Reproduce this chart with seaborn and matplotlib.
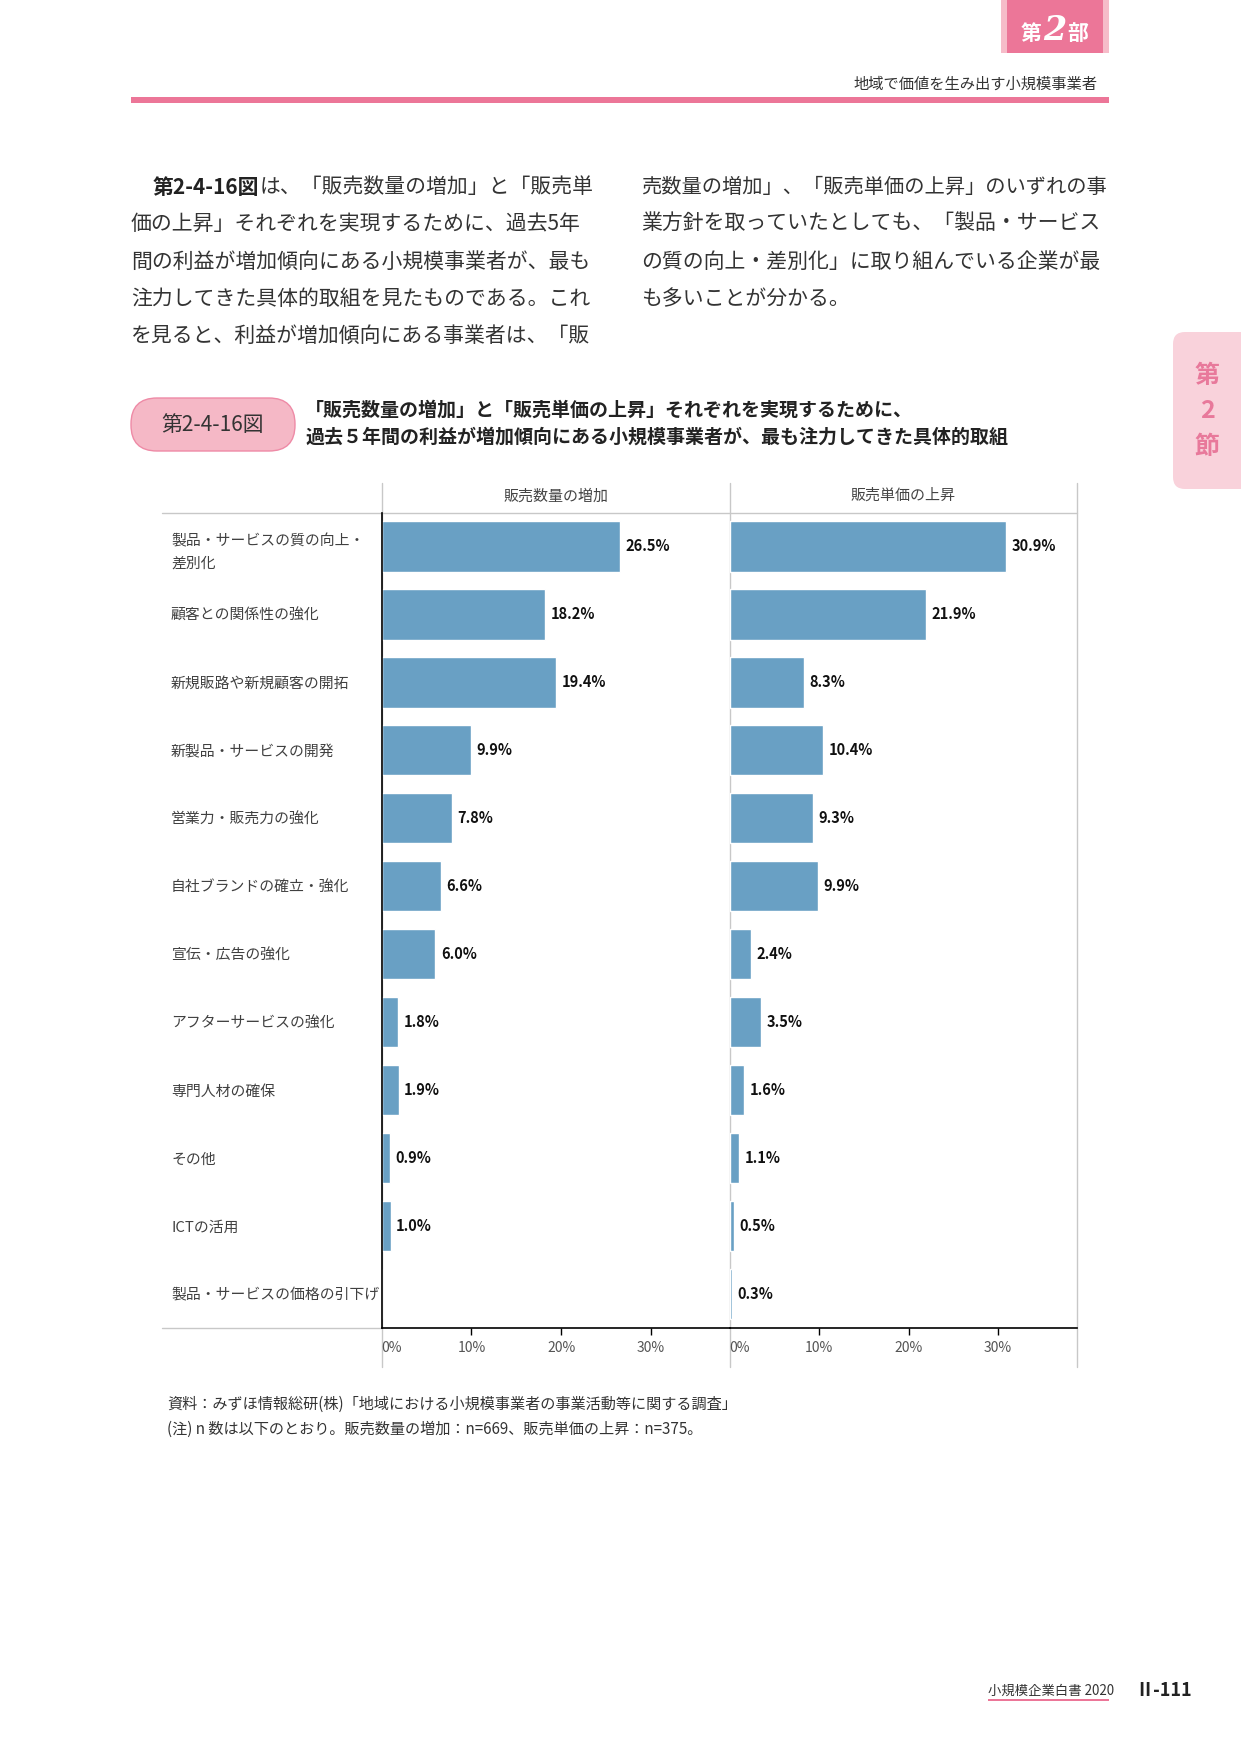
import matplotlib
matplotlib.use("Agg")
import matplotlib.pyplot as plt
import seaborn as sns
import pandas as pd
from matplotlib.patches import Rectangle, FancyBboxPatch
from matplotlib.lines import Line2D
from matplotlib.ticker import FuncFormatter

sns.set_style("white")
plt.rcParams['font.family'] = ['Noto Sans CJK JP', 'DejaVu Sans']

# ---------------- data ----------------
categories = [
    "製品・サービスの質の向上・\n差別化",
    "顧客との関係性の強化",
    "新規販路や新規顧客の開拓",
    "新製品・サービスの開発",
    "営業力・販売力の強化",
    "自社ブランドの確立・強化",
    "宣伝・広告の強化",
    "アフターサービスの強化",
    "専門人材の確保",
    "その他",
    "ICTの活用",
    "製品・サービスの価格の引下げ",
]
volume_increase = [26.5, 18.2, 19.4, 9.9, 7.8, 6.6, 6.0, 1.8, 1.9, 0.9, 1.0, 0.0]
price_increase = [30.9, 21.9, 8.3, 10.4, 9.3, 9.9, 2.4, 3.5, 1.6, 1.1, 0.5, 0.3]
panel_titles = ["販売数量の増加", "販売単価の上昇"]
x_ticks = [0, 10, 20, 30]

body_left = [
    "は、「販売数量の増加」と「販売単",
    "価の上昇」それぞれを実現するために、過去5年",
    "間の利益が増加傾向にある小規模事業者が、最も",
    "注力してきた具体的取組を見たものである。これ",
    "を見ると、利益が増加傾向にある事業者は、「販",
]
body_right = [
    "売数量の増加」、「販売単価の上昇」のいずれの事",
    "業方針を取っていたとしても、「製品・サービス",
    "の質の向上・差別化」に取り組んでいる企業が最",
    "も多いことが分かる。",
]
fig_no = "第2-4-16図"
title_lines = [
    "「販売数量の増加」と「販売単価の上昇」それぞれを実現するために、",
    "過去５年間の利益が増加傾向にある小規模事業者が、最も注力してきた具体的取組",
]
notes = [
    "資料：みずほ情報総研(株)「地域における小規模事業者の事業活動等に関する調査」",
    "(注) n 数は以下のとおり。販売数量の増加：n=669、販売単価の上昇：n=375。",
]

PINK = "#ec7698"
BAR = "#69a0c4"
GRAY = "#c8c8c8"

W, H = 1241, 1754
fig = plt.figure(figsize=(W / 100, H / 100), dpi=100)
bg = fig.add_axes([0, 0, 1, 1])
bg.set_xlim(0, W)
bg.set_ylim(H, 0)
bg.axis("off")
bg.set_zorder(0)

# ---- page header ----
bg.add_patch(Rectangle((1001, 0), 108, 53, fc="#f6bcc9", ec="none"))
bg.add_patch(Rectangle((1007, 0), 96, 53, fc=PINK, ec="none"))
bg.text(1031, 34, "第", color="white", fontsize=15, fontweight="bold", ha="center", va="center")
bg.text(1055, 30, "2", color="white", fontsize=24, fontstyle="italic", family="DejaVu Serif",
        fontweight="bold", ha="center", va="center")
bg.text(1078, 34, "部", color="white", fontsize=15, fontweight="bold", ha="center", va="center")
bg.text(1097, 84, "地域で価値を生み出す小規模事業者", color="#333333", fontsize=11,
        ha="right", va="center")
bg.add_patch(Rectangle((131, 97), 978, 6, fc=PINK, ec="none"))

# ---- side tab ----
bg.add_patch(FancyBboxPatch((1173, 332), 100, 157, boxstyle="round,pad=0,rounding_size=12",
                            fc="#f9d2db", ec="none"))
for ch, yy in zip(["第", "2", "節"], [376, 411, 447]):
    bg.text(1207, yy, ch, color="#e8799b", fontsize=18, fontweight="bold", ha="center", va="center")

# ---- body text ----
fig.canvas.draw()
renderer = fig.canvas.get_renderer()


def fit_line(x0, x1, yy, s, size=15, **kw):
    t = bg.text(x0, yy, s, fontsize=size, color="#333333", ha="left", va="center", **kw)
    w = t.get_window_extent(renderer).width
    if x0 + w > x1:
        t.set_fontsize(size * (x1 - x0) / w)
    return t


ys = [187, 224, 262, 299, 336]
t0 = bg.text(153, ys[0], "第2-4-16図", fontsize=15, fontweight="bold", color="#222222",
             ha="left", va="center")
bb = t0.get_window_extent(renderer)
fit_line(bb.x1, 599, ys[0], body_left[0])
for line, yy in zip(body_left[1:], ys[1:]):
    fit_line(131, 599, yy, line)
for line, yy in zip(body_right, ys):
    fit_line(641, 1108, yy, line)

# ---- figure title ----
bg.add_patch(FancyBboxPatch((131, 398), 164, 53, boxstyle="round,pad=0,rounding_size=26",
                            fc="#f5b8c6", ec="#ee8aa6", lw=1.0))
bg.text(213, 425, fig_no, fontsize=15, color="#333333", ha="center", va="center")
bg.text(305, 410, title_lines[0], fontsize=13.7, fontweight="bold", color="#222222",
        ha="left", va="center")
bg.text(305, 437, title_lines[1], fontsize=13.7, fontweight="bold", color="#222222",
        ha="left", va="center")

# ---- chart frame lines ----
xL, xM, xR = 381.6, 729.6, 1076.5
yT, yB = 512.5, 1328
for xx in (xL, xM, xR):
    bg.add_line(Line2D([xx, xx], [483, 1367], color=GRAY, lw=1.0))
bg.add_line(Line2D([162, xR], [yT, yT], color=GRAY, lw=1.0))
bg.add_line(Line2D([162, xL], [yB, yB], color=GRAY, lw=1.0))

# ---- notes ----
bg.text(167, 1404, notes[0], fontsize=10.9, color="#333333", ha="left", va="center")
bg.text(167, 1429, notes[1], fontsize=10.9, color="#333333", ha="left", va="center")

# ---- footer ----
bg.text(988, 1691, "小規模企業白書 2020", fontsize=9.6, color="#333333", ha="left", va="center")
bg.add_patch(Rectangle((988, 1699), 121, 1.5, fc=PINK, ec="none"))
bg.text(1135, 1690, "Ⅱ-111", fontsize=13, fontweight="bold", color="#222222",
        ha="left", va="center")

# ---- chart panels ----
bottom = 1 - yB / H
height = (yB - yT) / H
axL = fig.add_axes([xL / W, bottom, (xM - xL) / W, height])
axR = fig.add_axes([xM / W, bottom, (xR - xM) / W, height])

datasets = [volume_increase, price_increase]
for i, (ax, vals) in enumerate(zip([axL, axR], datasets)):
    ax.set_facecolor("none")
    df = pd.DataFrame({"cat": categories, "val": vals})
    sns.barplot(data=df, x="val", y="cat", orient="h", color=BAR, width=0.74,
                saturation=1, ax=ax)
    ax.set_xlim(0, 38.75)
    ax.set_ylim(len(categories) - 0.5, -0.5)
    ax.set_xlabel("")
    ax.set_ylabel("")
    ax.set_xticks(x_ticks)
    ax.xaxis.set_major_formatter(FuncFormatter(lambda v, p: f"{int(v)}%"))
    ax.tick_params(axis="x", direction="out", length=5, width=1.0, color="black",
                   labelsize=10, labelcolor="#555555", pad=4, bottom=True)
    ax.xaxis.get_major_ticks()[0].tick1line.set_visible(False)
    for lab in ax.get_xticklabels():
        if lab.get_text() == "0%":
            lab.set_ha("left")
    for s in ["top", "right"]:
        ax.spines[s].set_visible(False)
    ax.spines["bottom"].set_color("black")
    ax.spines["bottom"].set_linewidth(1.2)
    labels = [f"{v:.1f}%" if v > 0 else "" for v in vals]
    ax.bar_label(ax.containers[0], labels=labels, padding=4, fontsize=10.5,
                 fontweight="bold", color="#111111")
    ax.annotate(panel_titles[i], xy=(0.5, 1.0), xycoords="axes fraction",
                xytext=(0, 16.5 * 0.72), textcoords="offset points",
                ha="center", va="center", fontsize=10.8, color="#444444")
    ax.grid(False)

axL.spines["left"].set_color("black")
axL.spines["left"].set_linewidth(1.2)
axL.tick_params(axis="y", left=False, length=0, pad=(xL - 171) * 0.72, labelsize=10.7,
                labelcolor="#404040")
for lab in axL.get_yticklabels():
    lab.set_ha("left")
    lab.set_multialignment("left")
    lab.set_linespacing(1.8)

axR.spines["left"].set_visible(False)
axR.set_yticks(axL.get_yticks())
axR.set_yticklabels([])
axR.tick_params(axis="y", left=False)

fig.savefig("out.png", dpi=100)
